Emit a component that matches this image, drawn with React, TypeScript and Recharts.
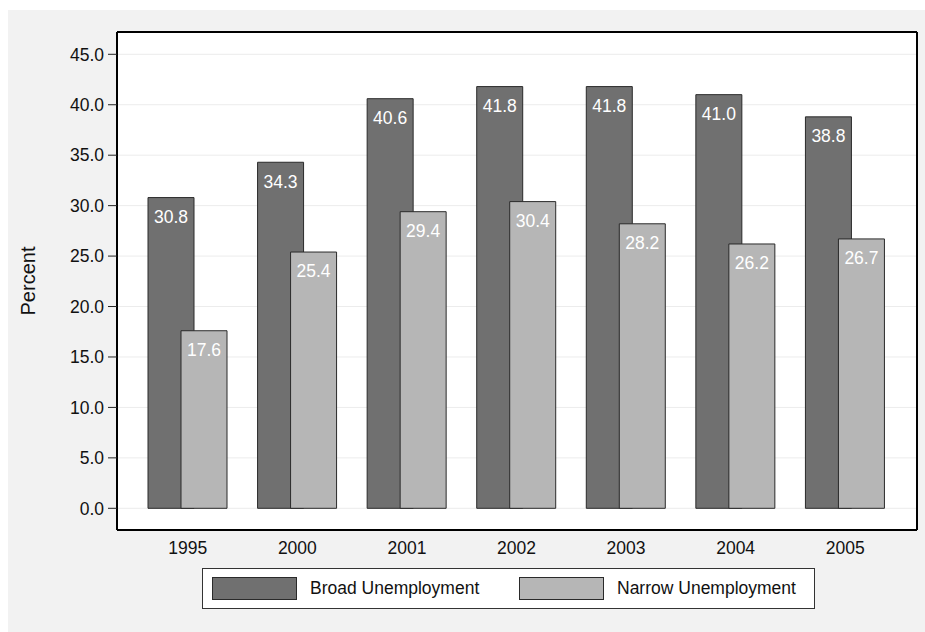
import {
  BarChart,
  Bar,
  XAxis,
  YAxis,
  CartesianGrid,
  Legend,
  LabelList,
  Label,
} from 'recharts'

const years = ['1995', '2000', '2001', '2002', '2003', '2004', '2005']
const broad = [30.8, 34.3, 40.6, 41.8, 41.8, 41.0, 38.8]
const narrow = [17.6, 25.4, 29.4, 30.4, 28.2, 26.2, 26.7]
const yTicks = [0, 5, 10, 15, 20, 25, 30, 35, 40, 45]

const seriesNames = ['Broad Unemployment', 'Narrow Unemployment']
const seriesColors = ['#707070', '#b6b6b6']

const data = years.map((year, i) => ({ year, broad: broad[i], narrow: narrow[i] }))

const FONT = '"Liberation Sans", Arial, Helvetica, sans-serif'
const BAR_STROKE = '#2a2a2a'
const Y_DOMAIN: [number, number] = [-2.15, 47.21]

function BoxLegend() {
  return (
    <div style={{
      position: 'relative',
      width: 611,
      height: 39,
      background: '#fff',
      border: '1px solid #333',
      fontFamily: FONT,
      fontSize: 17.5,
      color: '#111',
    }}>
      {seriesNames.map((name, i) => (
        <div key={name} style={{
          position: 'absolute',
          left: i === 0 ? 9 : 316,
          top: 8,
          display: 'flex',
          alignItems: 'center',
          height: 23,
          whiteSpace: 'nowrap',
        }}>
          <span style={{
            display: 'inline-block',
            width: 83,
            height: 21,
            background: seriesColors[i],
            border: `1px solid ${BAR_STROKE}`,
            marginRight: 13,
          }} />
          {name}
        </div>
      ))}
    </div>
  )
}

function PercentLabel({ viewBox }: any) {
  const cx = viewBox.x + 20
  const cy = viewBox.y + viewBox.height / 2
  return (
    <text
      x={cx}
      y={cy}
      transform={`rotate(-90, ${cx}, ${cy})`}
      textAnchor="middle"
      dominantBaseline="central"
      fontFamily={FONT}
      fontSize={20}
      fill="#111"
    >
      Percent
    </text>
  )
}

export default function App() {
  const tickStyle = { fontFamily: FONT, fontSize: 17.5, fill: '#111' }
  const valueLabel = { fontFamily: FONT, fontSize: 17.5, fill: '#fff' }
  const frame = { stroke: '#000', strokeWidth: 2 }
  return (
    <>
      <style>{'html, body { margin: 0; overflow: hidden; }'}</style>
      <div style={{ position: 'absolute', left: 8, top: 10, width: 917, height: 622, background: '#f2f2f2' }}>
        <BarChart
          width={917}
          height={622}
          data={data}
          margin={{ top: 21, right: 7, left: 0, bottom: 62 }}
          barSize={46}
          barGap={-13}
        >
          <CartesianGrid vertical={false} stroke="#ececec" fill="#fff" />
          <XAxis
            dataKey="year"
            padding={{ left: 16, right: 17 }}
            tickLine={false}
            tickSize={0}
            tickMargin={12}
            tick={tickStyle}
            axisLine={frame}
            height={40}
          />
          {/* top and right edges of the plot frame */}
          <XAxis
            xAxisId="top"
            dataKey="year"
            orientation="top"
            height={1}
            tick={false}
            tickLine={false}
            axisLine={frame}
          />
          <YAxis
            type="number"
            domain={Y_DOMAIN}
            allowDataOverflow
            ticks={yTicks}
            interval={0}
            width={109}
            tickSize={9}
            tickMargin={4}
            tickFormatter={(v: number) => v.toFixed(1)}
            tick={tickStyle}
            tickLine={{ stroke: '#222' }}
            axisLine={frame}
          >
            <Label content={<PercentLabel />} />
          </YAxis>
          <YAxis
            yAxisId="right"
            orientation="right"
            width={1}
            type="number"
            domain={Y_DOMAIN}
            allowDataOverflow
            tick={false}
            tickLine={false}
            axisLine={frame}
          />
          <Legend
            layout="vertical"
            align="center"
            verticalAlign="middle"
            content={<BoxLegend />}
            wrapperStyle={{ left: 194, top: 558, width: 613, height: 41 }}
          />
          <Bar dataKey="broad" name={seriesNames[0]} fill={seriesColors[0]} stroke={BAR_STROKE} strokeWidth={1} isAnimationActive={false}>
            <LabelList dataKey="broad" position="insideTop" offset={13} formatter={(v: number) => v.toFixed(1)} style={valueLabel} />
          </Bar>
          <Bar dataKey="narrow" name={seriesNames[1]} fill={seriesColors[1]} stroke={BAR_STROKE} strokeWidth={1} isAnimationActive={false}>
            <LabelList dataKey="narrow" position="insideTop" offset={13} formatter={(v: number) => v.toFixed(1)} style={valueLabel} />
          </Bar>
        </BarChart>
      </div>
    </>
  )
}
